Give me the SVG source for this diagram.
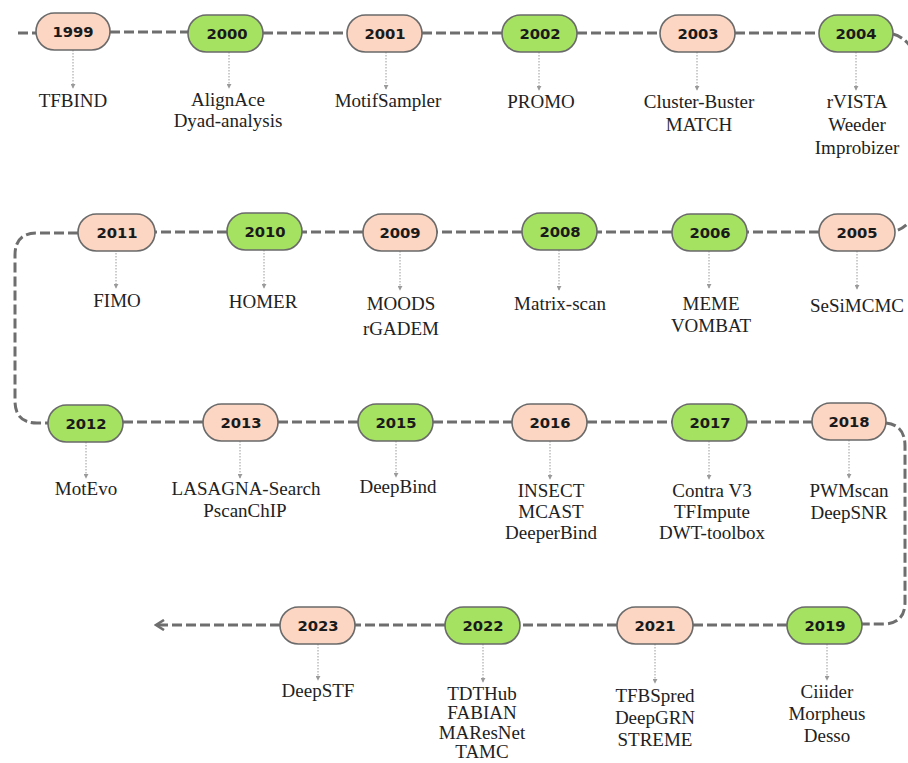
<svg xmlns="http://www.w3.org/2000/svg" width="908" height="763" viewBox="0 0 908 763">
<style>
.nd rect{stroke:#6a6a6a;stroke-width:1.6}
.p rect{fill:#fcd5c3}
.g rect{fill:#a6e262}
.yr{font-family:"DejaVu Sans",sans-serif;font-weight:bold;font-size:14.8px;fill:#1a1a1a;text-anchor:middle}
.lb{font-family:"Liberation Serif","Times New Roman",serif;font-size:19px;fill:#222;text-anchor:middle}
.tl{fill:none;stroke:#6e6e6e;stroke-width:3;stroke-dasharray:10 4}
.sub{fill:none;stroke:#9a9a9a;stroke-width:1;stroke-dasharray:1.5 1.5}
</style>
<defs>
<marker id="sa" viewBox="0 0 6 6" refX="5" refY="3" markerWidth="5" markerHeight="5" orient="auto" markerUnits="userSpaceOnUse">
<path d="M0,0 L6,3 L0,6 z" fill="#9a9a9a"/>
</marker>
<marker id="ea" viewBox="0 0 12 12" refX="10" refY="6" markerWidth="12" markerHeight="12" orient="auto" markerUnits="userSpaceOnUse">
<path d="M2,1 L10,6 L2,11" fill="none" stroke="#6e6e6e" stroke-width="2.6"/>
</marker>
</defs>
<g id="connectors">
<path class="tl" d="M18,33 H36"/>
<path class="tl" d="M110,32 H188"/>
<path class="tl" d="M263,33 H347"/>
<path class="tl" d="M422,33 H502"/>
<path class="tl" d="M577,33 H660"/>
<path class="tl" d="M735,33 H819"/>
<path class="tl" d="M893,34 C945,48 945,218 895,231"/>
<path class="tl" d="M819,232 H747"/>
<path class="tl" d="M672,232 H597"/>
<path class="tl" d="M522,232 H437"/>
<path class="tl" d="M363,232 H302"/>
<path class="tl" d="M227,232 H155"/>
<path class="tl" d="M78,233 H37 Q15,233 15,255 V401 Q15,423 37,423 H48"/>
<path class="tl" d="M123,422 H203"/>
<path class="tl" d="M278,422 H358"/>
<path class="tl" d="M433,422 H512"/>
<path class="tl" d="M587,422 H672"/>
<path class="tl" d="M747,422 H812"/>
<path class="tl" d="M886,423 Q905,425 905,446 V602 Q905,624 883,624 H862"/>
<path class="tl" d="M787,625 H693"/>
<path class="tl" d="M617,625 H520"/>
<path class="tl" d="M445,625 H355"/>
<path class="tl" d="M280,625 H156" marker-end="url(#ea)"/>
<g>
<path class="sub" d="M73,50 V88" marker-end="url(#sa)"/>
<path class="sub" d="M229,52 V88" marker-end="url(#sa)"/>
<path class="sub" d="M386,52 V89" marker-end="url(#sa)"/>
<path class="sub" d="M539,52 V90" marker-end="url(#sa)"/>
<path class="sub" d="M697,52 V90" marker-end="url(#sa)"/>
<path class="sub" d="M856,52 V90" marker-end="url(#sa)"/>
<path class="sub" d="M116,250 V288" marker-end="url(#sa)"/>
<path class="sub" d="M264,250 V288" marker-end="url(#sa)"/>
<path class="sub" d="M400,251 V290" marker-end="url(#sa)"/>
<path class="sub" d="M559,250 V290" marker-end="url(#sa)"/>
<path class="sub" d="M709,251 V288" marker-end="url(#sa)"/>
<path class="sub" d="M857,251 V289" marker-end="url(#sa)"/>
<path class="sub" d="M86,442 V478" marker-end="url(#sa)"/>
<path class="sub" d="M240,441 V478" marker-end="url(#sa)"/>
<path class="sub" d="M396,441 V477" marker-end="url(#sa)"/>
<path class="sub" d="M550,441 V479" marker-end="url(#sa)"/>
<path class="sub" d="M709,441 V479" marker-end="url(#sa)"/>
<path class="sub" d="M849,440 V478" marker-end="url(#sa)"/>
<path class="sub" d="M318,644 V680" marker-end="url(#sa)"/>
<path class="sub" d="M483,644 V682" marker-end="url(#sa)"/>
<path class="sub" d="M655,644 V683" marker-end="url(#sa)"/>
<path class="sub" d="M827,644 V680" marker-end="url(#sa)"/>
</g>
</g>
<g id="n1999" class="nd p"><rect x="36" y="13" width="74" height="37" rx="18.5"/><text class="yr" x="73" y="37">1999</text><text class="lb" x="73" y="107">TFBIND</text></g>
<g id="n2000" class="nd g"><rect x="188" y="15" width="75" height="37" rx="18.5"/><text class="yr" x="227" y="39">2000</text><text class="lb" x="228" y="106">AlignAce</text><text class="lb" x="228" y="127">Dyad-analysis</text></g>
<g id="n2001" class="nd p"><rect x="347" y="15" width="75" height="37" rx="18.5"/><text class="yr" x="385" y="39">2001</text><text class="lb" x="388" y="107">MotifSampler</text></g>
<g id="n2002" class="nd g"><rect x="502" y="15" width="75" height="37" rx="18.5"/><text class="yr" x="540" y="39">2002</text><text class="lb" x="541" y="108">PROMO</text></g>
<g id="n2003" class="nd p"><rect x="660" y="15" width="75" height="37" rx="18.5"/><text class="yr" x="698" y="39">2003</text><text class="lb" x="699" y="108">Cluster-Buster</text><text class="lb" x="699" y="131">MATCH</text></g>
<g id="n2004" class="nd g"><rect x="819" y="15" width="74" height="37" rx="18.5"/><text class="yr" x="856" y="39">2004</text><text class="lb" x="857" y="108">rVISTA</text><text class="lb" x="857" y="131">Weeder</text><text class="lb" x="857" y="154">Improbizer</text></g>
<g id="n2005" class="nd p"><rect x="819" y="214" width="76" height="37" rx="18.5"/><text class="yr" x="857" y="238">2005</text><text class="lb" x="857" y="312">SeSiMCMC</text></g>
<g id="n2006" class="nd g"><rect x="672" y="214" width="75" height="37" rx="18.5"/><text class="yr" x="710" y="238">2006</text><text class="lb" x="711" y="310">MEME</text><text class="lb" x="711" y="332">VOMBAT</text></g>
<g id="n2008" class="nd g"><rect x="522" y="213" width="75" height="37" rx="18.5"/><text class="yr" x="560" y="237">2008</text><text class="lb" x="560" y="310">Matrix-scan</text></g>
<g id="n2009" class="nd p"><rect x="363" y="214" width="74" height="37" rx="18.5"/><text class="yr" x="400" y="238">2009</text><text class="lb" x="401" y="310">MOODS</text><text class="lb" x="401" y="335">rGADEM</text></g>
<g id="n2010" class="nd g"><rect x="227" y="213" width="75" height="37" rx="18.5"/><text class="yr" x="265" y="237">2010</text><text class="lb" x="263" y="308">HOMER</text></g>
<g id="n2011" class="nd p"><rect x="78" y="214" width="77" height="37" rx="18.5"/><text class="yr" x="117" y="238">2011</text><text class="lb" x="117" y="307">FIMO</text></g>
<g id="n2012" class="nd g"><rect x="48" y="405" width="75" height="37" rx="18.5"/><text class="yr" x="86" y="429">2012</text><text class="lb" x="86" y="495">MotEvo</text></g>
<g id="n2013" class="nd p"><rect x="203" y="404" width="75" height="37" rx="18.5"/><text class="yr" x="241" y="428">2013</text><text class="lb" x="246" y="495">LASAGNA-Search</text><text class="lb" x="245" y="517">PscanChIP</text></g>
<g id="n2015" class="nd g"><rect x="358" y="404" width="75" height="37" rx="18.5"/><text class="yr" x="396" y="428">2015</text><text class="lb" x="398" y="493">DeepBind</text></g>
<g id="n2016" class="nd p"><rect x="512" y="404" width="75" height="37" rx="18.5"/><text class="yr" x="550" y="428">2016</text><text class="lb" x="551" y="497">INSECT</text><text class="lb" x="551" y="518">MCAST</text><text class="lb" x="551" y="539">DeeperBind</text></g>
<g id="n2017" class="nd g"><rect x="672" y="404" width="75" height="37" rx="18.5"/><text class="yr" x="710" y="428">2017</text><text class="lb" x="712" y="497">Contra V3</text><text class="lb" x="712" y="518">TFImpute</text><text class="lb" x="712" y="539">DWT-toolbox</text></g>
<g id="n2018" class="nd p"><rect x="812" y="403" width="74" height="37" rx="18.5"/><text class="yr" x="849" y="427">2018</text><text class="lb" x="849" y="497">PWMscan</text><text class="lb" x="849" y="519">DeepSNR</text></g>
<g id="n2019" class="nd g"><rect x="787" y="607" width="75" height="37" rx="18.5"/><text class="yr" x="825" y="631">2019</text><text class="lb" x="827" y="698">Ciiider</text><text class="lb" x="827" y="720">Morpheus</text><text class="lb" x="827" y="742">Desso</text></g>
<g id="n2021" class="nd p"><rect x="617" y="607" width="76" height="37" rx="18.5"/><text class="yr" x="655" y="631">2021</text><text class="lb" x="655" y="702">TFBSpred</text><text class="lb" x="655" y="724">DeepGRN</text><text class="lb" x="655" y="746">STREME</text></g>
<g id="n2022" class="nd g"><rect x="445" y="607" width="75" height="37" rx="18.5"/><text class="yr" x="483" y="631">2022</text><text class="lb" x="482" y="700">TDTHub</text><text class="lb" x="482" y="719">FABIAN</text><text class="lb" x="482" y="739">MAResNet</text><text class="lb" x="482" y="758">TAMC</text></g>
<g id="n2023" class="nd p"><rect x="280" y="607" width="75" height="37" rx="18.5"/><text class="yr" x="318" y="631">2023</text><text class="lb" x="318" y="697">DeepSTF</text></g>
</svg>
